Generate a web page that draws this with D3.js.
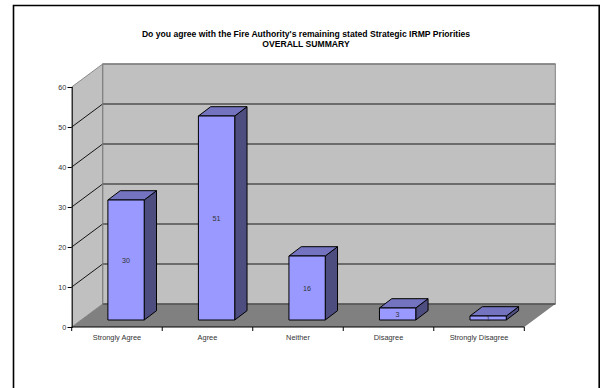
<!DOCTYPE html>
<html>
<head>
<meta charset="utf-8">
<script src="https://cdn.jsdelivr.net/npm/d3@7"></script>
<style>
html, body { margin: 0; padding: 0; background: #fff; }
svg { display: block; }
text { font-family: "Liberation Sans", Arial, sans-serif; }
</style>
</head>
<body>
<svg id="chart" width="600" height="388"></svg>
<script>
const categories = ["Strongly Agree", "Agree", "Neither", "Disagree", "Strongly Disagree"];
const responses = [30, 51, 16, 3, 1];
const yTicks = [0, 10, 20, 30, 40, 50, 60];
const titleLines = ["Do you agree with the Fire Authority's remaining stated Strategic IRMP Priorities", "OVERALL SUMMARY"];

const svg = d3.select("#chart");

// Floor depth of the 3D box and of each column
const depthX = 31, depthY = -23;
const barDepthX = 12.3, barDepthY = -9.3;
const barOffsetX = 36.2, barOffsetY = -7;

const x = d3.scaleBand().domain(categories).range([71.7, 524.3]);
const y = d3.scaleLinear().domain([0, 60]).range([327, 87]);
const barWidth = 36.3;
const pts = a => a.map(p => p.join(",")).join(" ");

// Page frame: open at the bottom, running off the lower edge
svg.append("path").attr("d", "M13.5,388V5.5H599.2V388")
  .attr("fill", "none").attr("stroke", "#000").attr("stroke-width", 1.6);

const x0 = x.range()[0], x1 = x.range()[1];

// Side wall
svg.append("polygon")
  .attr("points", pts([[x0, y(60)], [x0 + depthX, y(60) + depthY], [x0 + depthX, y(0) + depthY], [x0, y(0)]]))
  .attr("fill", "#c0c0c0");
// Back wall
svg.append("rect")
  .attr("x", x0 + depthX).attr("y", y(60) + depthY)
  .attr("width", x1 - x0).attr("height", y(0) - y(60))
  .attr("fill", "#c0c0c0").attr("stroke", "#808080").attr("stroke-width", 1);
// Floor
svg.append("polygon")
  .attr("points", pts([[x0, y(0)], [x0 + depthX, y(0) + depthY], [x1 + depthX, y(0) + depthY], [x1, y(0)]]))
  .attr("fill", "#808080");

// Gridlines along the side and back walls
yTicks.forEach(t => {
  const yy = y(t);
  const top = t === 60;
  svg.append("line").attr("x1", x0).attr("y1", yy).attr("x2", x0 + depthX).attr("y2", yy + depthY)
    .attr("stroke", top || t === 0 ? "#808080" : "#000").attr("stroke-width", 0.9);
  svg.append("line").attr("x1", x0 + depthX).attr("y1", yy + depthY).attr("x2", x1 + depthX).attr("y2", yy + depthY)
    .attr("stroke", top ? "#808080" : "#505050").attr("stroke-width", 1.3);
});
svg.append("line").attr("x1", x0 + depthX).attr("y1", y(60) + depthY).attr("x2", x0 + depthX).attr("y2", y(0) + depthY)
  .attr("stroke", "#808080");

// Axes
const yAxis = d3.axisLeft(y).tickValues(yTicks).tickSize(4).tickPadding(1.5);
const gy = svg.append("g").attr("transform", `translate(${x0},0)`).call(yAxis);
gy.selectAll("text").attr("font-size", 7.2).attr("fill", "#333");
gy.selectAll("line").attr("stroke", "#000");
gy.select(".domain").attr("stroke", "#000").attr("stroke-width", 1.1);

svg.append("line").attr("x1", x0).attr("x2", x1).attr("y1", y(0)).attr("y2", y(0))
  .attr("stroke", "#000").attr("stroke-width", 1.1);
const edges = categories.map(c => x(c)).concat([x1]);
svg.selectAll(".xtick").data(edges).join("line").attr("class", "xtick")
  .attr("x1", d => d).attr("x2", d => d).attr("y1", y(0)).attr("y2", y(0) + 4)
  .attr("stroke", "#000");
svg.selectAll(".xlabel").data(categories).join("text").attr("class", "xlabel")
  .attr("x", d => x(d) + x.bandwidth() / 2).attr("y", y(0) + 13)
  .attr("text-anchor", "middle").attr("font-size", 7.4).attr("fill", "#333")
  .text(d => d);

// Columns: side, top and front faces
const bars = svg.selectAll(".bar").data(categories.map((c, i) => ({ c, v: responses[i] })))
  .join("g").attr("class", "bar");
const left = d => x(d.c) + barOffsetX;
const right = d => left(d) + barWidth;
const base = barOffsetY;
const edge = { stroke: "#000", "stroke-width": 1, "stroke-linejoin": "round" };
const applyEdge = s => { Object.entries(edge).forEach(([k, v]) => s.attr(k, v)); return s; };

applyEdge(bars.append("polygon")
  .attr("points", d => pts([[right(d), y(0) + base], [right(d) + barDepthX, y(0) + base + barDepthY],
    [right(d) + barDepthX, y(d.v) + base + barDepthY], [right(d), y(d.v) + base]]))
  .attr("fill", "#4d4d80"));
applyEdge(bars.append("polygon")
  .attr("points", d => pts([[left(d), y(d.v) + base], [left(d) + barDepthX, y(d.v) + base + barDepthY],
    [right(d) + barDepthX, y(d.v) + base + barDepthY], [right(d), y(d.v) + base]]))
  .attr("fill", "#7373bf"));
applyEdge(bars.append("rect")
  .attr("x", left).attr("y", d => y(d.v) + base)
  .attr("width", barWidth).attr("height", d => y(0) - y(d.v))
  .attr("fill", "#9999ff"));

bars.append("text")
  .attr("x", d => left(d) + barWidth / 2)
  .attr("y", d => (y(d.v) + y(0)) / 2 + base + 2.6)
  .attr("text-anchor", "middle").attr("font-size", 7.2).attr("fill", "#333")
  .text(d => d.v);

// Title
svg.selectAll(".title").data(titleLines).join("text").attr("class", "title")
  .attr("x", 306).attr("y", (d, i) => 37 + i * 10.4)
  .attr("text-anchor", "middle").attr("font-size", 8.6).attr("font-weight", "bold").attr("fill", "#000")
  .text(d => d);
</script>
</body>
</html>
